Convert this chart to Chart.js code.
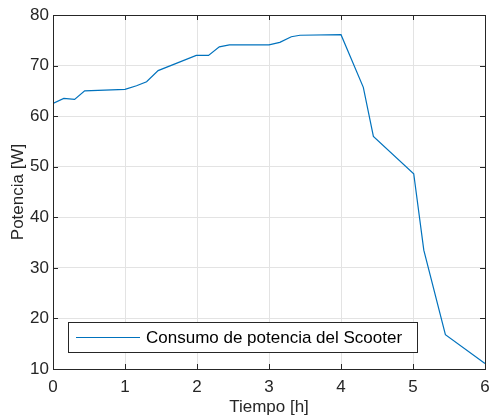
<!DOCTYPE html>
<html>
<head>
<meta charset="utf-8">
<script src="https://cdn.jsdelivr.net/npm/chart.js@4/dist/chart.umd.min.js"></script>
<style>
  html, body { margin: 0; padding: 0; background: #fff; }
  #wrap { width: 489px; height: 418px; }
</style>
</head>
<body>
<div id="wrap"><canvas id="c" width="489" height="418"></canvas></div>
<script>
// Scooter power consumption over time
const hours = [0, 0.15, 0.30, 0.44, 1.0, 1.16, 1.30, 1.46, 1.99, 2.16, 2.31, 2.45, 3.0, 3.15, 3.31, 3.43, 4.0, 4.31, 4.45, 5.01, 5.15, 5.45, 6.0];
const power = [62.5, 63.5, 63.3, 65.0, 65.3, 66.0, 66.8, 69.0, 72.0, 72.0, 73.7, 74.1, 74.1, 74.6, 75.7, 76.0, 76.1, 65.7, 56.0, 48.6, 33.5, 16.8, 11.1];
const xTicks = [0, 1, 2, 3, 4, 5, 6];
const yTicks = [10, 20, 30, 40, 50, 60, 70, 80];
const seriesLabel = 'Consumo de potencia del Scooter';

const FONT = '"Liberation Sans", Arial, Helvetica, sans-serif';
const FSIZE = 17;
const AXIS = '#262626';
const LINE = '#0072BD';

// box + inward ticks like matlab
const boxPlugin = {
  id: 'box',
  afterDraw(chart) {
    const { ctx, chartArea: a, scales } = chart;
    const t = 5;
    ctx.save();
    ctx.strokeStyle = AXIS;
    ctx.lineWidth = 1;
    ctx.beginPath();
    xTicks.forEach(v => {
      const px = Math.round(scales.x.getPixelForValue(v)) + 0.5;
      ctx.moveTo(px, a.bottom); ctx.lineTo(px, a.bottom - t);
      ctx.moveTo(px, a.top); ctx.lineTo(px, a.top + t);
    });
    yTicks.forEach(v => {
      const py = Math.round(scales.y.getPixelForValue(v)) + 0.5;
      ctx.moveTo(a.left, py); ctx.lineTo(a.left + t, py);
      ctx.moveTo(a.right, py); ctx.lineTo(a.right - t, py);
    });
    ctx.stroke();
    ctx.strokeRect(Math.round(a.left) + 0.5, Math.round(a.top) + 0.5, Math.round(a.right - a.left), Math.round(a.bottom - a.top));
    ctx.restore();
  }
};

// legend in lower-left corner of the axes
const legendPlugin = {
  id: 'boxLegend',
  afterDraw(chart) {
    const { ctx, chartArea: a } = chart;
    const ds = chart.data.datasets[0];
    const x0 = Math.round(a.left) + 15, y0 = Math.round(a.bottom) - 47, w = 349, h = 30;
    ctx.save();
    ctx.fillStyle = '#fff';
    ctx.fillRect(x0, y0, w, h);
    ctx.strokeStyle = AXIS;
    ctx.lineWidth = 1;
    ctx.strokeRect(x0 + 0.5, y0 + 0.5, w, h);
    ctx.strokeStyle = ds.borderColor;
    ctx.beginPath();
    ctx.moveTo(x0 + 8, y0 + h / 2 + 0.5);
    ctx.lineTo(x0 + 72, y0 + h / 2 + 0.5);
    ctx.stroke();
    ctx.fillStyle = '#000';
    ctx.font = FSIZE + 'px ' + FONT;
    ctx.textBaseline = 'middle';
    ctx.fillText(ds.label, x0 + 78, y0 + h / 2 + 1);
    ctx.restore();
  }
};

new Chart(document.getElementById('c'), {
  type: 'line',
  data: {
    datasets: [{
      label: seriesLabel,
      data: hours.map((h, i) => ({ x: h, y: power[i] })),
      borderColor: LINE,
      borderWidth: 1.2,
      pointRadius: 0,
      tension: 0,
      fill: false
    }]
  },
  options: {
    responsive: false,
    animation: false,
    devicePixelRatio: 1,
    layout: { padding: { top: 15, right: 4, left: 0, bottom: 0 } },
    plugins: { legend: { display: false }, tooltip: { enabled: false } },
    scales: {
      x: {
        type: 'linear', min: 0, max: 6,
        afterBuildTicks: s => { s.ticks = xTicks.map(v => ({ value: v })); },
        afterFit: s => { s.height = 49; s.paddingLeft = 0; s.paddingRight = 0; },
        ticks: { color: AXIS, font: { family: FONT, size: FSIZE }, padding: 8, maxRotation: 0 },
        grid: { color: '#e3e3e3', drawTicks: false },
        border: { display: false },
        title: { display: true, text: 'Tiempo [h]', color: AXIS, font: { family: FONT, size: FSIZE }, padding: { top: 0, bottom: 0 } }
      },
      y: {
        type: 'linear', min: 10, max: 80,
        afterBuildTicks: s => { s.ticks = yTicks.map(v => ({ value: v })); },
        afterFit: s => { s.width = 53; s.paddingTop = 0; s.paddingBottom = 0; },
        ticks: { color: AXIS, font: { family: FONT, size: FSIZE }, padding: 4 },
        grid: { color: '#e3e3e3', drawTicks: false },
        border: { display: false },
        title: { display: true, text: 'Potencia [W]', color: AXIS, font: { family: FONT, size: FSIZE }, padding: { top: 8, bottom: 0 } }
      }
    }
  },
  plugins: [boxPlugin, legendPlugin]
});
</script>
</body>
</html>
